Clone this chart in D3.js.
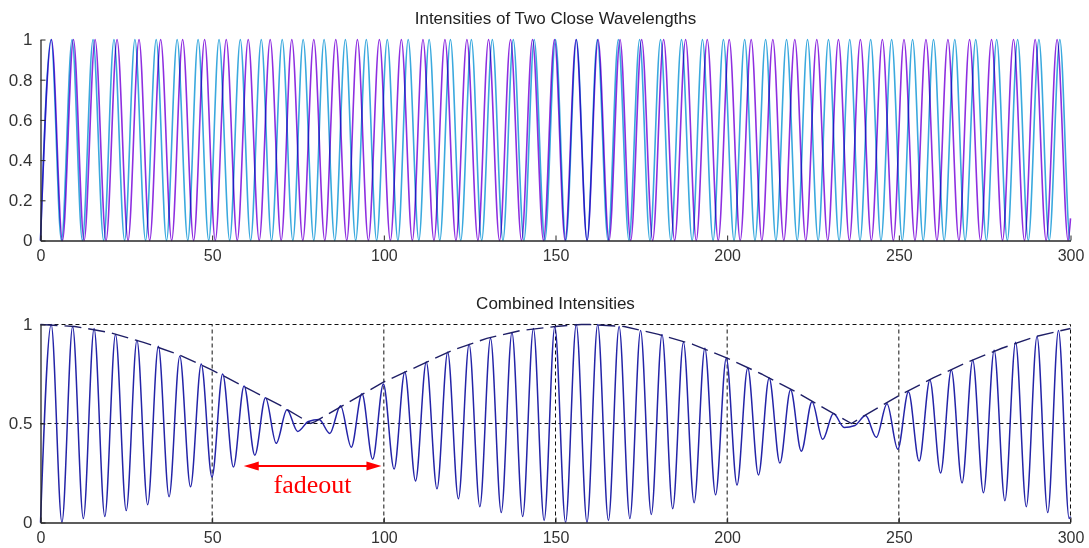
<!DOCTYPE html>
<html>
<head>
<meta charset="utf-8">
<script src="https://cdn.jsdelivr.net/npm/d3@7"></script>
<style>
  html, body { margin: 0; padding: 0; background: #fff; }
  svg { display: block; font-family: Arial, "Liberation Sans", sans-serif; }
</style>
</head>
<body>
<svg id="chart" width="1089" height="548"></svg>
<script>
// ---- axis ticks ----
const xTicks = [0, 50, 100, 150, 200, 250, 300];
const topYTicks = [0, 0.2, 0.4, 0.6, 0.8, 1];
const bottomYTicks = [0, 0.5, 1];

// ---- first wavelength (cyan): positions of maxima (=1) and minima (=0) ----
const cyanPeaks = [3.1, 9.2, 15.3, 21.4, 27.5, 33.7, 39.8, 45.9, 52.0, 58.2, 64.3, 70.4, 76.5, 82.6, 88.8,
  94.9, 101.0, 107.1, 113.2, 119.4, 125.5, 131.6, 137.7, 143.8, 150.0, 156.1, 162.2, 168.3, 174.5, 180.6,
  186.7, 192.8, 198.9, 205.1, 211.2, 217.3, 223.4, 229.5, 235.7, 241.8, 247.9, 254.0, 260.1, 266.3, 272.4,
  278.5, 284.6, 290.8, 296.9];
const cyanTroughs = [0, 6.1, 12.2, 18.4, 24.5, 30.6, 36.7, 42.9, 49.0, 55.1, 61.2, 67.3, 73.5, 79.6, 85.7,
  91.8, 97.9, 104.1, 110.2, 116.3, 122.4, 128.5, 134.7, 140.8, 146.9, 153.0, 159.2, 165.3, 171.4, 177.5,
  183.6, 189.8, 195.9, 202.0, 208.1, 214.2, 220.4, 226.5, 232.6, 238.7, 244.8, 251.0, 257.1, 263.2, 269.3,
  275.5, 281.6, 287.7, 293.8, 299.9];
const cyanEnd = 0.0;

// ---- second wavelength (purple) ----
const purplePeaks = [3.2, 9.6, 15.9, 22.3, 28.7, 35.0, 41.4, 47.8, 54.1, 60.5, 66.9, 73.2, 79.6, 86.0, 92.3,
  98.7, 105.1, 111.4, 117.8, 124.2, 130.5, 136.9, 143.3, 149.7, 156.0, 162.4, 168.8, 175.1, 181.5, 187.9,
  194.2, 200.6, 207.0, 213.3, 219.7, 226.1, 232.4, 238.8, 245.2, 251.5, 257.9, 264.3, 270.6, 277.0, 283.4,
  289.7, 296.1];
const purpleTroughs = [0, 6.4, 12.7, 19.1, 25.5, 31.8, 38.2, 44.6, 50.9, 57.3, 63.7, 70.1, 76.4, 82.8, 89.2,
  95.5, 101.9, 108.3, 114.6, 121.0, 127.4, 133.7, 140.1, 146.5, 152.8, 159.2, 165.6, 171.9, 178.3, 184.7,
  191.0, 197.4, 203.8, 210.1, 216.5, 222.9, 229.3, 235.6, 242.0, 248.4, 254.7, 261.1, 267.5, 273.8, 280.2,
  286.6, 292.9, 299.3];
const purpleEnd = 0.11;

// ---- combined intensity: successive turning points ----
const combinedX = [0, 3.12, 6.24, 9.36, 12.48, 15.61, 18.73, 21.85, 24.97, 28.09, 31.21, 34.33, 37.45, 40.57,
  43.69, 46.82, 49.94, 53.06, 56.18, 59.30, 62.42, 65.54, 68.66, 71.78, 74.90, 78.03, 81.15, 84.27, 87.39,
  90.51, 93.63, 96.75, 99.87, 102.99, 106.11, 109.24, 112.36, 115.48, 118.60, 121.72, 124.84, 127.96,
  131.08, 134.20, 137.32, 140.44, 143.57, 146.69, 149.81, 152.93, 156.05, 159.17, 162.29, 165.41, 168.53,
  171.66, 174.78, 177.90, 181.02, 184.14, 187.26, 190.38, 193.50, 196.62, 199.74, 202.87, 205.99, 209.11,
  212.23, 215.35, 218.47, 221.59, 224.71, 227.83, 230.95, 234.08, 237.20, 240.32, 243.44, 246.56, 249.68,
  252.80, 255.92, 259.04, 262.16, 265.29, 268.41, 271.53, 274.65, 277.77, 280.89, 284.01, 287.13, 290.25,
  293.37, 296.50, 299.62, 300];
const combinedY = [0.00, 1.00, 0.00, 0.99, 0.02, 0.98, 0.03, 0.95, 0.06, 0.92, 0.09, 0.89, 0.13, 0.84,
  0.18, 0.80, 0.23, 0.75, 0.28, 0.69, 0.34, 0.63, 0.40, 0.57, 0.46, 0.51, 0.52, 0.45, 0.59,
  0.38, 0.65, 0.32, 0.70, 0.27, 0.76, 0.21, 0.81, 0.17, 0.86, 0.12, 0.90, 0.08,
  0.93, 0.05, 0.96, 0.03, 0.98, 0.01, 0.99, 0.00, 1.00, 0.00, 1.00, 0.01, 0.99,
  0.02, 0.97, 0.04, 0.95, 0.07, 0.91, 0.10, 0.88, 0.14, 0.83, 0.19, 0.78, 0.24,
  0.73, 0.30, 0.67, 0.36, 0.61, 0.42, 0.55, 0.48, 0.49, 0.54, 0.43, 0.60, 0.37,
  0.66, 0.31, 0.72, 0.25, 0.77, 0.20, 0.82, 0.15, 0.87, 0.11, 0.91, 0.08, 0.94,
  0.05, 0.97, 0.02, 0.03];

// ---- upper envelope of the combined intensity ----
const envelopeX = [0, 10, 20, 30, 40, 50, 60, 70, 78.7, 80, 90, 100, 110, 120, 130, 140, 150, 157.5, 160,
  170, 180, 190, 200, 210, 220, 230, 236.2, 240, 250, 260, 270, 280, 290, 300];
const envelopeY = [1.00, 0.99, 0.96, 0.91, 0.85, 0.77, 0.68, 0.59, 0.50, 0.51, 0.61, 0.71, 0.79, 0.87, 0.93,
  0.97, 0.99, 1.00, 1.00, 0.99, 0.95, 0.90, 0.83, 0.75, 0.66, 0.56, 0.50, 0.54, 0.64, 0.73, 0.81, 0.88,
  0.94, 0.98];

// ---- annotation ----
const fadeoutSpan = [59.2, 99.3];
const fadeoutLevel = 0.285;
const fadeoutLabel = "fadeout";

const titles = ["Intensities of Two Close Wavelengths", "Combined Intensities"];

// ================= drawing =================
const svg = d3.select("#chart");
const AXIS = "#262626";
const TEXT = "#333";
const TICK_FONT = 16;

const x = d3.scaleLinear().domain([0, 300]).range([40.5, 1070.5]);
const yTop = d3.scaleLinear().domain([0, 1]).range([240.5, 39.5]);
const yBot = d3.scaleLinear().domain([0, 1]).range([522.5, 324.5]);

function extremaPoints(peaks, troughs, endValue) {
  return peaks.map(v => [v, 1])
    .concat(troughs.map(v => [v, 0]))
    .concat([[300, endValue]])
    .sort((a, b) => a[0] - b[0]);
}

function drawAxes(g, y, yTicks) {
  const xa = d3.axisBottom(x).tickValues(xTicks).tickSizeInner(-5).tickSizeOuter(0)
    .tickPadding(9.5).tickFormat(d3.format("d"));
  g.append("g").attr("transform", `translate(0,${y(0)})`).call(xa)
    .call(s => s.select(".domain").attr("stroke", AXIS).attr("stroke-width", 1.3))
    .call(s => s.selectAll(".tick line").attr("stroke", AXIS))
    .call(s => s.selectAll(".tick text").attr("fill", TEXT).attr("font-size", TICK_FONT));
  const ya = d3.axisLeft(y).tickValues(yTicks).tickSizeInner(-5).tickSizeOuter(0)
    .tickPadding(8).tickFormat(d => String(d));
  g.append("g").attr("transform", `translate(${x(0)},0)`).call(ya)
    .call(s => s.select(".domain").attr("stroke", AXIS).attr("stroke-width", 1.3))
    .call(s => s.selectAll(".tick line").attr("stroke", AXIS))
    .call(s => s.selectAll(".tick text").attr("fill", TEXT).attr("font-size", TICK_FONT + 1));
  g.selectAll("text").attr("font-family", "Arial, 'Liberation Sans', sans-serif");
}

// ---------- top panel ----------
const topPanel = svg.append("g");
const lineTop = d3.line().x(d => x(d[0])).y(d => yTop(d[1])).curve(d3.curveMonotoneX);
topPanel.append("path")
  .datum(extremaPoints(cyanPeaks, cyanTroughs, cyanEnd))
  .attr("d", lineTop).attr("fill", "none")
  .attr("stroke", "#3aa9de").attr("stroke-width", 1.6)
  .style("mix-blend-mode", "multiply");
topPanel.append("path")
  .datum(extremaPoints(purplePeaks, purpleTroughs, purpleEnd))
  .attr("d", lineTop).attr("fill", "none")
  .attr("stroke", "#8e2ee0").attr("stroke-width", 1.6)
  .style("mix-blend-mode", "multiply");
drawAxes(topPanel, yTop, topYTicks);
topPanel.append("text").attr("x", x(150)).attr("y", 24).attr("text-anchor", "middle")
  .attr("font-size", 17).attr("fill", "#222").text(titles[0]);

// ---------- bottom panel ----------
const bottomPanel = svg.append("g");
// dotted grid
const grid = bottomPanel.append("g").attr("stroke", "#111").attr("stroke-width", 1).attr("stroke-dasharray", "4,3");
grid.selectAll("line.v").data(xTicks.filter(d => d > 0)).join("line")
  .attr("class", "v")
  .attr("x1", d => x(d)).attr("x2", d => x(d)).attr("y1", yBot(0)).attr("y2", yBot(1));
grid.selectAll("line.h").data(bottomYTicks.filter(d => d > 0)).join("line")
  .attr("class", "h")
  .attr("x1", x(0)).attr("x2", x(300)).attr("y1", d => yBot(d)).attr("y2", d => yBot(d));

const lineBot = d3.line().x(d => x(d[0])).y(d => yBot(d[1])).curve(d3.curveMonotoneX);
bottomPanel.append("path")
  .datum(d3.zip(combinedX, combinedY))
  .attr("d", lineBot).attr("fill", "none")
  .attr("stroke", "#2424a8").attr("stroke-width", 1.5);

const lineEnv = d3.line().x(d => x(d[0])).y(d => yBot(d[1]));
bottomPanel.append("path")
  .datum(d3.zip(envelopeX, envelopeY))
  .attr("d", lineEnv).attr("fill", "none")
  .attr("stroke", "#1e1e66").attr("stroke-width", 1.4).attr("stroke-dasharray", "17,7");

drawAxes(bottomPanel, yBot, bottomYTicks);
bottomPanel.append("text").attr("x", x(150)).attr("y", 309).attr("text-anchor", "middle")
  .attr("font-size", 17).attr("fill", "#222").text(titles[1]);

// fadeout arrow
const ax0 = x(fadeoutSpan[0]), ax1 = x(fadeoutSpan[1]), ay = yBot(fadeoutLevel);
const red = "#ff0000";
bottomPanel.append("line").attr("x1", ax0 + 10).attr("x2", ax1 - 10).attr("y1", ay).attr("y2", ay)
  .attr("stroke", red).attr("stroke-width", 2);
bottomPanel.append("path").attr("fill", red)
  .attr("d", `M${ax0},${ay} L${ax0 + 15},${ay - 4.5} L${ax0 + 15},${ay + 4.5} Z`);
bottomPanel.append("path").attr("fill", red)
  .attr("d", `M${ax1},${ay} L${ax1 - 15},${ay - 4.5} L${ax1 - 15},${ay + 4.5} Z`);
bottomPanel.append("text").attr("x", (ax0 + ax1) / 2).attr("y", ay + 27).attr("text-anchor", "middle")
  .attr("font-family", "'Liberation Serif', 'Times New Roman', serif").attr("font-size", 26)
  .attr("fill", red).text(fadeoutLabel);
</script>
</body>
</html>
